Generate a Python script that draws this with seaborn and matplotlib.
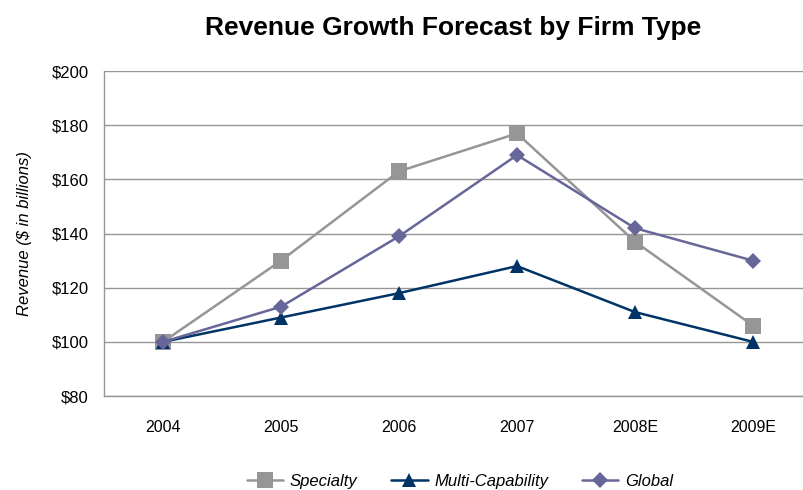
import pandas as pd
import numpy as np
import matplotlib.pyplot as plt
import seaborn as sns

# data
years = ["2004", "2005", "2006", "2007", "2008E", "2009E"]
specialty = [100, 130, 163, 177, 137, 106]
multi_capability = [100, 109, 118, 128, 111, 100]
global_firms = [100, 113, 139, 169, 142, 130]
series_names = ["Specialty", "Multi-Capability", "Global"]

df = pd.DataFrame({
    "Year": years * 3,
    "Revenue": specialty + multi_capability + global_firms,
    "Type": [s for s in series_names for _ in years],
})

sns.set_style("white")
plt.rcParams['font.family'] = ['Liberation Sans', 'DejaVu Sans']
plt.rcParams['text.color'] = 'black'
plt.rcParams['axes.labelcolor'] = 'black'
plt.rcParams['xtick.labelcolor'] = 'black'
plt.rcParams['ytick.labelcolor'] = 'black'

colors = {"Specialty": "#969696", "Multi-Capability": "#003366", "Global": "#666699"}
markers = {"Specialty": "s", "Multi-Capability": "^", "Global": "D"}
msize = {"Specialty": 11, "Multi-Capability": 10, "Global": 8}

fig = plt.figure(figsize=(8.04, 4.9), dpi=100)
ax = fig.add_axes([0.1294, 0.1918, 0.8806, 0.663])

for name in series_names:
    sns.lineplot(data=df[df["Type"] == name], x="Year", y="Revenue", ax=ax,
                 color=colors[name], marker=markers[name], markersize=msize[name],
                 markeredgewidth=0, linewidth=1.8, label=name, sort=False)

ax.set_xlim(-0.5, 5.5)
ax.set_ylim(80, 200)
ax.set_yticks(range(80, 201, 20))
ax.set_yticklabels([f"${v}" for v in range(80, 201, 20)])
ax.set_xticks(range(len(years)))
ax.set_xticklabels(years)
ax.set_xticks(np.arange(-0.5, 5.6, 1), minor=True)
ax.tick_params(axis="x", which="major", length=0, pad=17, labelsize=11.5)
ax.tick_params(axis="x", which="minor", length=5, color="#969696", width=1)
ax.tick_params(axis="y", length=5, color="#969696", width=1, labelsize=12, pad=6)
ax.yaxis.grid(True, color="#969696", linewidth=1)
ax.set_axisbelow(True)
for s in ["top", "right"]:
    ax.spines[s].set_visible(False)
for s in ["left", "bottom"]:
    ax.spines[s].set_color("#969696")
    ax.spines[s].set_linewidth(1)
ax.set_xlabel("")
ax.set_ylabel("Revenue ($ in billions)", fontsize=12, style="italic", labelpad=14)

fig.text(0.564, 0.943, "Revenue Growth Forecast by Firm Type", ha="center", va="center",
         fontsize=19, fontweight="bold", color="black")

ax.get_legend().remove()
h, l = ax.get_legend_handles_labels()
fig.legend(h, l, loc="center", bbox_to_anchor=(0.572, 0.018), ncol=3, frameon=False,
           prop={"style": "italic", "size": 12}, handlelength=2.2, columnspacing=2.0,
           handletextpad=0.4)

fig.savefig("out.png", dpi=100)
